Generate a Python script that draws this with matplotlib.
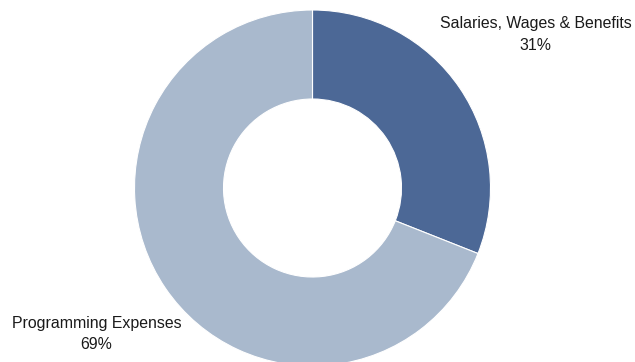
import matplotlib.pyplot as plt

# data
labels = ["Salaries, Wages & Benefits", "Programming Expenses"]
shares = [31, 69]
colors = ["#4c6896", "#a9b9cd"]

W, H = 635, 362
fig = plt.figure(figsize=(W / 100, H / 100), dpi=100)
ax = fig.add_axes([0, 0, 1, 1])

# donut, drawn in pixel-like data coordinates (y up)
cx, cy, r = 312.5, H - 188, 178
ax.pie(shares, colors=colors, startangle=90, counterclock=False,
       center=(cx, cy), radius=r,
       wedgeprops=dict(width=r * 0.5, edgecolor="white", linewidth=0.8))

ax.set_xlim(0, W)
ax.set_ylim(0, H)
ax.set_aspect("equal")
ax.axis("off")

# labels outside the ring
label_pos = [(535.5, H - 34.5), (96.5, H - 334)]
for name, val, (x, y) in zip(labels, shares, label_pos):
    ax.text(x, y, f"{name}\n{val}%", ha="center", va="center",
            fontsize=11.4, family="Liberation Sans", color="#1a1a1a",
            linespacing=1.55)

fig.savefig("out.png", dpi=100)
